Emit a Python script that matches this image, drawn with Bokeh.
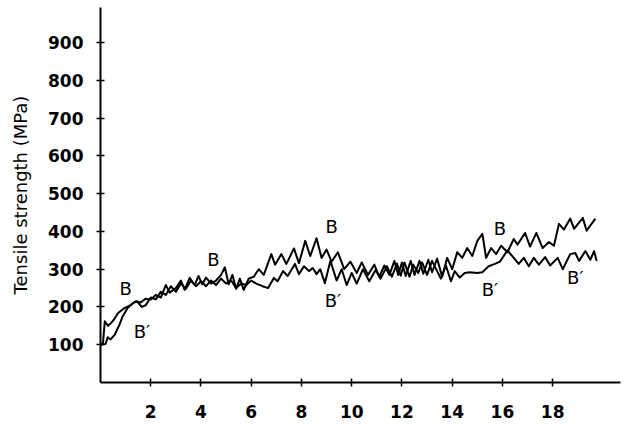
from bokeh.plotting import figure
from bokeh.models import FixedTicker, Label, Range1d
from bokeh.embed import file_html
from bokeh.resources import INLINE

# Curve B (strain %, tensile strength MPa)
b_strain = [0.0, 0.1, 0.17, 0.3, 0.4, 0.55, 0.7, 0.95, 1.2, 1.4, 1.6, 1.8, 2.0, 2.2, 2.4, 2.6,
            2.75, 3.0, 3.2, 3.35, 3.55, 3.75, 3.9, 4.05, 4.2, 4.4, 4.6, 4.8, 4.95, 5.1, 5.25,
            5.4, 5.55, 5.7, 5.9, 6.1, 6.3, 6.5, 6.8, 6.95, 7.2, 7.4, 7.7, 7.9, 8.15, 8.35, 8.6,
            8.8, 9.0, 9.2, 9.45, 9.7, 9.95, 10.2, 10.4, 10.65, 10.9, 11.1, 11.3, 11.5, 11.7,
            11.85, 12.0, 12.15, 12.35, 12.5, 12.7, 12.85, 13.05, 13.2, 13.4, 13.6, 13.8, 14.0,
            14.2, 14.4, 14.6, 14.8, 15.0, 15.2, 15.35, 15.55, 15.75, 15.95, 16.2, 16.45, 16.6,
            16.9, 17.1, 17.35, 17.6, 17.85, 18.05, 18.25, 18.45, 18.7, 18.85, 19.2, 19.35, 19.7]
b_stress = [100, 105, 162, 150, 156, 168, 184, 197, 205, 215, 212, 222, 220, 232, 225, 258,
            238, 250, 270, 245, 277, 258, 282, 260, 278, 262, 270, 285, 305, 260, 285,
            248, 275, 245, 275, 280, 300, 285, 340, 312, 340, 314, 355, 316, 375, 335, 382,
            330, 352, 320, 345, 300, 320, 290, 318, 285, 312, 280, 310, 285, 322,
            285, 318, 282, 322, 285, 322, 288, 325, 292, 328, 280, 330, 300,
            345, 330, 356, 335, 375, 394, 330, 356, 340, 362, 345, 380, 365,
            396, 360, 396, 356, 372, 362, 420, 405, 434, 407, 436, 402, 434]

# Curve B'
bp_strain = [0.0, 0.2, 0.29, 0.4, 0.57, 0.76, 0.88, 1.08, 1.28, 1.45, 1.65, 1.8, 2.0, 2.2, 2.4,
             2.6, 2.8, 3.0, 3.2, 3.4, 3.6, 3.8, 4.0, 4.2, 4.4, 4.6, 4.8, 5.0, 5.2, 5.4, 5.6,
             5.8, 6.0, 6.2, 6.45, 6.67, 6.9, 7.05, 7.27, 7.45, 7.74, 7.9, 8.1, 8.3, 8.45, 8.6,
             8.75, 8.93, 9.15, 9.4, 9.6, 9.8, 10.0, 10.2, 10.45, 10.7, 10.95, 11.15, 11.4, 11.6,
             11.8, 11.95, 12.1, 12.3, 12.45, 12.65, 12.8, 13.0, 13.2, 13.4, 13.55, 13.75, 13.95,
             14.1, 14.3, 14.5, 14.7, 15.0, 15.2, 15.45, 15.7, 15.9, 16.2, 16.45, 16.65, 16.85,
             17.05, 17.25, 17.45, 17.7, 17.9, 18.2, 18.4, 18.7, 18.9, 19.05, 19.3, 19.5, 19.65, 19.75]
bp_stress = [100, 102, 120, 114, 127, 154, 175, 197, 210, 215, 200, 205, 225, 220, 240,
             232, 255, 240, 262, 248, 270, 255, 268, 255, 270, 258, 275, 262, 270, 250, 262,
             258, 270, 262, 255, 250, 277, 268, 295, 282, 314, 287, 308, 295, 303, 287,
             300, 263, 322, 270, 300, 258, 290, 262, 300, 268, 298, 275, 308, 280,
             315, 283, 318, 280, 312, 290, 318, 285, 322, 295, 275, 310, 268,
             295, 278, 290, 292, 290, 292, 308, 314, 320, 350, 330, 314, 330,
             308, 330, 312, 332, 310, 330, 300, 340, 343, 322, 348, 325, 348, 322]

# Curve annotations
label_text = ["B", "B\u2032", "B", "B", "B\u2032", "B", "B\u2032", "B\u2032"]
label_x = [1.0, 1.65, 4.5, 9.2, 9.25, 15.9, 15.5, 18.9]
label_y = [250, 135, 327, 412, 217, 408, 247, 278]

y_ticks = [100, 200, 300, 400, 500, 600, 700, 800, 900]
x_ticks = [2, 4, 6, 8, 10, 12, 14, 16, 18]

p = figure(width=629, height=448, output_backend="svg", toolbar_location=None,
           x_range=Range1d(0, 20.7), y_range=Range1d(0, 993),
           min_border_left=100, min_border_right=9, min_border_top=7, min_border_bottom=66)
p.outline_line_color = None
p.grid.visible = False
p.background_fill_color = "white"

p.line(b_strain, b_stress, line_color="black", line_width=2, line_join="round")
p.line(bp_strain, bp_stress, line_color="black", line_width=2, line_join="round")

for t, x, y in zip(label_text, label_x, label_y):
    p.add_layout(Label(x=x, y=y, text=t, text_align="center", text_baseline="middle",
                       text_font="DejaVu Sans", text_font_size="18px", text_color="black"))

for ax in (p.xaxis[0], p.yaxis[0]):
    ax.axis_line_width = 2
    ax.axis_line_color = "black"
    ax.major_tick_line_width = 1.5
    ax.major_tick_line_color = "black"
    ax.major_tick_in = 4
    ax.major_tick_out = 4
    ax.minor_tick_line_color = None
    ax.major_label_text_font = "DejaVu Sans"
    ax.major_label_text_font_style = "bold"
    ax.major_label_text_font_size = "17px"
    ax.major_label_text_color = "black"

p.xaxis.ticker = FixedTicker(ticks=x_ticks)
p.yaxis.ticker = FixedTicker(ticks=y_ticks)
p.yaxis.major_label_standoff = 13
p.xaxis.major_label_standoff = 18

p.yaxis.axis_label = "Tensile strength (MPa)"
p.yaxis.axis_label_text_font = "DejaVu Sans"
p.yaxis.axis_label_text_font_style = "normal"
p.yaxis.axis_label_text_font_size = "18px"
p.yaxis.axis_label_text_color = "black"
p.yaxis.axis_label_standoff = 14

p.add_layout(Label(x=9.53, y=-130, text="Tensile strain (%)", text_align="center",
                   text_baseline="middle", text_font="DejaVu Sans", text_font_size="18px",
                   text_color="black"))

open("out.html", "w").write(file_html(p, INLINE))
